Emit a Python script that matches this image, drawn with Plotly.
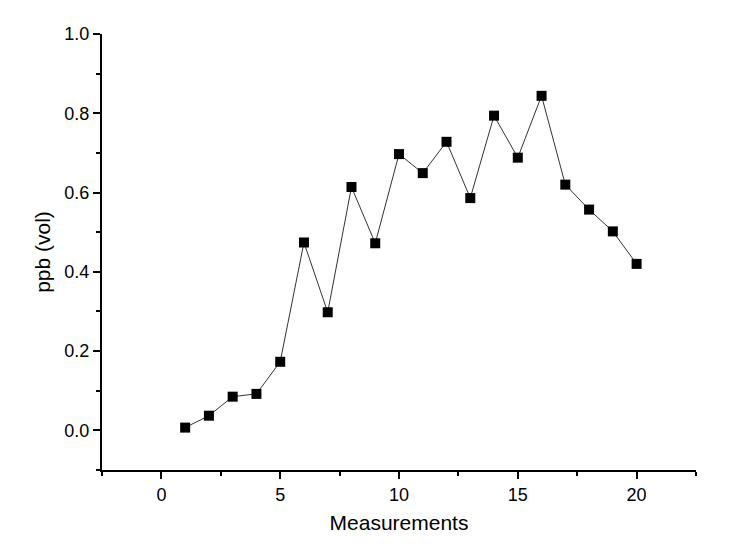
import plotly.graph_objects as go

measurements = list(range(1, 21))
ppb_vol = [0.007, 0.037, 0.085, 0.092, 0.173, 0.474, 0.298, 0.614, 0.472, 0.697,
           0.649, 0.728, 0.586, 0.794, 0.688, 0.844, 0.620, 0.557, 0.502, 0.420]
x_ticks = [0, 5, 10, 15, 20]
y_ticks = [0.0, 0.2, 0.4, 0.6, 0.8, 1.0]

fig = go.Figure()
fig.add_trace(go.Scatter(
    x=measurements, y=ppb_vol, mode="lines+markers",
    line=dict(color="#333333", width=1),
    marker=dict(symbol="square", size=10, color="black"),
    showlegend=False,
))

font_family = "Liberation Sans, Arial, sans-serif"
fig.update_layout(
    width=731, height=552,
    margin=dict(l=93.5, r=43, t=25.5, b=89.5),
    paper_bgcolor="white", plot_bgcolor="white",
    font=dict(family=font_family, color="black", size=18),
)
fig.update_xaxes(
    range=[-2.5, 22.5], tickvals=x_ticks, ticktext=[str(v) for v in x_ticks],
    showgrid=False, zeroline=False, showline=True, linecolor="black", linewidth=2,
    ticks="outside", ticklen=7, tickwidth=2, tickcolor="black",
    minor=dict(tickvals=[-2.5, 2.5, 7.5, 12.5, 17.5, 22.5], ticks="outside",
               ticklen=4, tickwidth=2, tickcolor="black", showgrid=False),
    tickfont=dict(size=18),
    title=dict(text="Measurements", font=dict(size=21), standoff=12),
)
fig.update_yaxes(
    range=[-0.1, 1.0], tickvals=y_ticks, ticktext=[f"{v:.1f}" for v in y_ticks],
    showgrid=False, zeroline=False, showline=True, linecolor="black", linewidth=2,
    ticks="outside", ticklen=7, tickwidth=2, tickcolor="black",
    minor=dict(tickvals=[-0.1, 0.1, 0.3, 0.5, 0.7, 0.9], ticks="outside",
               ticklen=4, tickwidth=2, tickcolor="black", showgrid=False),
    tickfont=dict(size=18),
    title=dict(text="ppb (vol)", font=dict(size=21), standoff=8),
)

fig.write_html("out.html")
